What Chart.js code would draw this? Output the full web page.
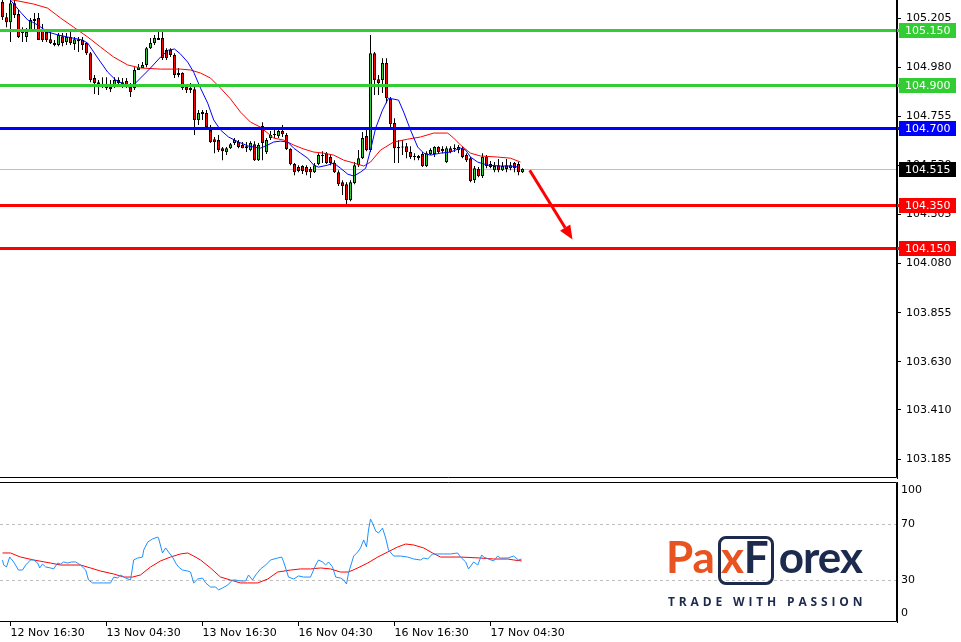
<!DOCTYPE html>
<html>
<head>
<meta charset="utf-8">
<script src="https://cdn.jsdelivr.net/npm/chart.js@4.4.0/dist/chart.umd.min.js"></script>
<style>
  body { margin: 0; background: #fff; }
  #wrap { position: relative; width: 961px; height: 642px; overflow: hidden; background: #fff; }
  canvas { position: absolute; left: 0; }
  #mainChart { top: 0; }
  #oscChart { top: 480px; }
  #logo { position: absolute; left: 666px; top: 530px; width: 200px; height: 80px; }
  #brand { position: absolute; left: 0; top: 0; font-family: Lato, "Open Sans", sans-serif; font-weight: 700; font-size: 44px; line-height: 52px; white-space: nowrap; }
  #brand .o { color: #e8531f; }
  #brand .n { color: #1c2a4d; }
  #brand .x { margin-left: 6px; }
  #brand .f { margin-right: 10px; }
  #brand .rest { letter-spacing: -1px; }
  #xbox { position: absolute; left: 52px; top: 6px; width: 50px; height: 43px; border: 3px solid #1c2a4d; border-radius: 8px; }
  #tag { position: absolute; left: 2px; top: 63px; font-family: "Open Sans", sans-serif; font-weight: 700; font-size: 12px; letter-spacing: 3.85px; color: #1c2a4d; white-space: nowrap; }
</style>
</head>
<body>
<div id="wrap">
  <canvas id="mainChart" width="961" height="480"></canvas>
  <canvas id="oscChart" width="961" height="162"></canvas>
  <div id="logo">
    <div id="xbox"></div>
    <div id="brand"><span class="o">Pa</span><span class="o x">x</span><span class="n f">F</span><span class="n rest">orex</span></div>
    <div id="tag">TRADE WITH PASSION</div>
  </div>
</div>
<script>
// M30 candles, bar 0 = 12 Nov ~15:30
const open = [105.280,105.209,105.186,105.273,105.223,105.141,105.118,105.150,105.200,105.205,
  105.145,105.141,105.108,105.090,105.081,105.122,105.095,105.118,105.086,105.108,
  105.104,105.090,105.044,104.930,104.911,104.902,104.893,104.889,104.893,104.921,
  104.911,104.916,104.889,104.884,104.967,104.976,104.990,105.067,105.090,105.104,
  105.113,105.058,105.058,105.035,104.953,104.953,104.889,104.884,104.879,104.738,
  104.774,104.770,104.692,104.650,104.646,104.609,104.591,104.609,104.632,104.637,
  104.623,104.618,104.600,104.627,104.554,104.710,104.591,104.655,104.669,104.664,
  104.687,104.669,104.605,104.536,104.522,104.527,104.522,104.513,104.499,104.536,
  104.577,104.586,104.568,104.541,104.499,104.453,104.444,104.371,104.449,104.531,
  104.563,104.664,104.600,105.044,104.925,104.921,104.999,104.834,104.724,104.614,
  104.616,104.618,104.591,104.573,104.573,104.582,104.527,104.582,104.582,104.614,
  104.605,104.545,104.609,104.609,104.600,104.609,104.577,104.563,104.462,104.513,
  104.481,104.568,104.536,104.508,104.531,104.508,104.531,104.517,104.541,104.536,
  104.499];
const high = [105.300,105.228,105.290,105.287,105.242,105.163,105.159,105.205,105.228,105.228,
  105.177,105.150,105.141,105.104,105.136,105.136,105.136,105.141,105.118,105.118,
  105.118,105.095,105.049,104.944,104.921,104.934,104.934,104.921,104.934,104.934,
  104.930,104.930,104.907,104.980,104.994,105.003,105.072,105.113,105.127,105.141,
  105.141,105.067,105.067,105.044,104.976,104.957,104.898,104.907,104.889,104.784,
  104.784,104.784,104.715,104.660,104.669,104.614,104.614,104.632,104.655,104.646,
  104.637,104.637,104.641,104.641,104.632,104.728,104.655,104.687,104.692,104.701,
  104.715,104.678,104.609,104.541,104.531,104.531,104.531,104.522,104.541,104.586,
  104.595,104.591,104.577,104.554,104.508,104.462,104.453,104.462,104.545,104.600,
  104.683,104.701,105.127,105.049,104.944,105.021,105.021,104.843,104.746,104.646,
  104.646,104.632,104.618,104.586,104.577,104.591,104.595,104.609,104.618,104.618,
  104.618,104.618,104.618,104.627,104.623,104.618,104.586,104.568,104.527,104.522,
  104.586,104.577,104.550,104.545,104.559,104.545,104.559,104.545,104.545,104.545,
  104.517];
const low = [105.196,105.163,105.095,105.205,105.113,105.095,105.095,105.141,105.150,105.104,
  105.095,105.095,105.086,105.076,105.076,105.076,105.081,105.081,105.058,105.049,
  105.058,105.035,104.911,104.857,104.852,104.884,104.875,104.866,104.884,104.893,
  104.884,104.884,104.843,104.875,104.967,104.976,104.980,105.063,105.081,105.104,
  105.013,105.013,105.026,104.930,104.934,104.875,104.861,104.861,104.669,104.715,
  104.738,104.701,104.632,104.586,104.591,104.554,104.577,104.605,104.623,104.609,
  104.609,104.591,104.595,104.550,104.550,104.554,104.582,104.646,104.655,104.655,
  104.660,104.600,104.531,104.485,104.499,104.490,104.485,104.472,104.495,104.531,
  104.541,104.536,104.531,104.495,104.435,104.394,104.348,104.366,104.444,104.522,
  104.559,104.595,104.591,104.852,104.852,104.861,104.815,104.705,104.541,104.541,
  104.577,104.563,104.559,104.554,104.554,104.522,104.522,104.577,104.568,104.586,
  104.586,104.541,104.586,104.591,104.586,104.563,104.545,104.453,104.449,104.476,
  104.472,104.517,104.517,104.499,104.499,104.504,104.499,104.508,104.499,104.485,
  104.495];
const close = [105.209,105.186,105.273,105.219,105.118,105.136,105.141,105.196,105.191,105.104,
  105.104,105.104,105.090,105.081,105.127,105.090,105.118,105.090,105.108,105.099,
  105.081,105.044,104.921,104.907,104.902,104.898,104.884,104.879,104.921,104.907,
  104.898,104.889,104.866,104.967,104.980,104.990,105.067,105.090,105.113,105.113,
  105.022,105.022,105.035,104.944,104.944,104.884,104.875,104.875,104.738,104.770,
  104.765,104.705,104.637,104.637,104.600,104.595,104.609,104.627,104.646,104.614,
  104.609,104.609,104.632,104.554,104.623,104.632,104.646,104.669,104.673,104.687,
  104.673,104.605,104.536,104.499,104.504,104.504,104.499,104.499,104.531,104.577,
  104.573,104.541,104.541,104.499,104.444,104.435,104.371,104.453,104.531,104.563,
  104.655,104.600,105.044,104.921,104.907,104.999,104.838,104.719,104.609,104.609,
  104.612,104.591,104.568,104.568,104.563,104.527,104.586,104.600,104.614,104.591,
  104.595,104.609,104.591,104.605,104.614,104.568,104.554,104.458,104.517,104.481,
  104.568,104.527,104.522,104.527,104.508,104.527,104.513,104.531,104.517,104.499,
  104.513];

// moving averages on the price pane (bar index, price)
const maFastIdx = [2,4.5,6.3,7.5,8.8,11.3,14,16.3,20,21.3,23.8,26.3,28.3,30.3,32,34.5,37,39.5,41.5,43,
  44.5,46.3,47.8,49.5,51.3,52.8,54.5,56.5,59,61.5,64.5,66.3,67.8,69.5,71.3,72.8,74.5,76.3,77.8,79,
  81.3,82.8,84.5,86.3,87.8,89.5,90.8,92,93.3,95,96.5,99,100.3,102,103.8,105.3,107,109.5,112,114.5,
  115.8,117,118.8,121.3,124.5,127,129];
const maFast = [105.287,105.232,105.196,105.186,105.173,105.141,105.127,105.118,105.104,105.090,105.022,104.957,104.921,104.902,104.884,104.930,104.976,105.026,105.058,105.063,
  105.040,105.003,104.957,104.884,104.815,104.738,104.692,104.660,104.637,104.618,104.609,104.623,104.637,104.641,104.637,104.609,104.586,104.563,104.531,104.522,
  104.531,104.541,104.517,104.490,104.481,104.499,104.517,104.600,104.701,104.783,104.838,104.829,104.774,104.692,104.614,104.586,104.577,104.586,104.591,104.609,
  104.600,104.568,104.545,104.531,104.527,104.527,104.522];
const maSlowIdx = [2,7.8,11.3,14.5,17.8,21.3,24.5,27.8,31.3,34.5,39.5,44.5,47,49.5,52,54.5,57,59.5,62,64.5,
  67.8,70.3,72.8,75.3,77.8,80.3,82.8,85.3,87.8,90.3,92,94.5,97.8,101.3,104.5,107.8,111.3,112.8,114.5,117,
  119.5,123.8,127,129.5];
const maSlow = [105.290,105.269,105.250,105.205,105.163,105.118,105.072,105.026,104.990,104.976,104.971,104.971,104.967,104.953,104.930,104.884,104.834,104.774,104.728,104.705,
  104.655,104.646,104.623,104.605,104.591,104.586,104.577,104.554,104.541,104.527,104.545,104.600,104.637,104.650,104.660,104.678,104.678,104.655,104.623,104.586,
  104.573,104.568,104.563,104.545];

// oscillator pane (bar index, value 0..100)
const oscFastIdx = [0,0.3,1,1.8,2.8,4,5,5.8,7,7.8,8.8,9.3,10,10.8,12,12.8,13.8,14.5,15.3,16.3,
  17.3,18.3,19.5,20.8,21.5,22.5,23.8,25.3,27,27.8,28.8,29.5,30.8,32,32.8,33.8,35,35.3,36.3,37.5,
  38.8,39,40,40.8,41.5,42.5,43.3,44,45,46.3,47,47.8,48.8,50,50.8,52,53.3,54,55,56.3,
  57.5,58.3,59.5,60.8,61.5,62.5,63.3,64.5,65.8,67,68.8,69.8,70.3,71.5,72.8,74,75.3,77,78.3,79,
  80,80.8,81.5,82.5,83.3,84.5,85.3,86,86.5,87.8,88.8,89.5,90.3,91,91.5,92,92.5,93.3,94,95,
  95.8,96.5,97.8,99.5,101.3,102.8,104.5,105.3,106.3,107.5,108.8,110.3,112,113.8,114.5,115.8,116.5,117.8,118.8,119.8,
  120.3,121.5,122.8,123.8,124.5,126.3,127.8,129,129.8];
const oscFast = [44.3,40.7,39.3,46.4,42.9,37.1,37.1,40.7,44.3,44.3,42.1,38.6,41.4,39.3,38.6,37.9,42.1,41.4,42.9,42.1,
  42.9,42.9,40.7,37.1,30,27.9,27.9,27.9,27.9,32.1,31.4,33.6,31.4,30,44.3,45.7,46.4,51.4,57.1,59.3,
  60.7,60,49.3,52.9,50,46.4,42.1,39.3,37.1,36.4,35.7,27.9,30.7,31.4,27.9,25,25,22.9,24.3,26.4,
  30,30,29.3,29.3,33.6,30,33.6,37.9,40.7,44.3,45.7,46.4,42.9,32.1,30.7,32.9,32.1,32.1,40.7,44.3,
  42.9,40.7,42.9,39.3,32.1,31.4,30,27.1,35,47.1,50,52.9,58.6,53.6,65.7,73.6,70.7,65,63.6,67.1,
  60,51.4,47.1,47.1,46.4,45,44.3,45.7,45,48.6,48.6,48.6,48.6,49.3,46.4,42.9,37.9,42.9,40.7,47.9,
  46.4,45,43.6,47.1,45.7,45.7,47.1,44.3,45];
const oscSlowIdx = [0,2,4.5,7.8,12,14.5,19.5,22,24.5,27.8,30.3,32.5,34.5,37,39.5,42,44.5,46.3,47.8,49.5,
  52,54.5,57,59.5,61.3,63.8,66.3,68.8,72,74.5,77,79.5,82,84.5,86.5,88.8,91.3,93.8,96.3,98.8,
  100.8,102.8,105.3,107.5,109.5,114.5,119.5,122.8,126.3,127.8,129.8];
const oscSlow = [49.3,49.3,46.4,44.3,42.1,40.7,40.7,38.6,36.4,34.3,32.1,32.1,33.6,39.3,43.6,46.4,48.6,49.3,47.1,44.3,
  38.6,32.1,30,27.9,27.9,27.9,30.7,35.7,37.1,37.9,37.9,38.6,37.9,35.7,35.7,38.6,42.1,46.4,50,53.6,
  55.7,55,52.9,49.3,46.4,46.4,45.7,45,45,44.3,43.6];

// axes
const priceTicks = [105.205, 104.980, 104.755, 104.530, 104.305, 104.080, 103.855, 103.630, 103.410, 103.185];
const priceMin = 103.098;
const priceMax = 105.2875;
const timeTickIdx = [2, 26, 50, 74, 98, 122];
const timeTickLabels = ['12 Nov 16:30', '13 Nov 04:30', '13 Nov 16:30', '16 Nov 04:30', '16 Nov 16:30', '17 Nov 04:30'];
const oscTickLabels = [100, 70, 30, 0];
const oscLevels = [30, 70];

// horizontal levels and current price
const levelPrices = [105.150, 104.900, 104.700, 104.350, 104.150];
const levelColors = ['#32cd32', '#32cd32', '#0000ff', '#ff0000', '#ff0000'];
const lastPrice = 104.515;
const arrowFrom = [131.8, 104.508];
const arrowTo = [142.5, 104.190];

const X_MIN = -0.625;
const X_MAX = 223.625;
const FONT = { family: 'DejaVu Sans', size: 11 };
const fontStr = '11px "DejaVu Sans"';

const bodies = open.map((o, i) => ({ x: i, y: [o, close[i]] }));
const wicks = low.map((l, i) => ({ x: i, y: [l, high[i]] }));
const bodyColors = open.map((o, i) => close[i] > o ? '#32cd32' : (close[i] < o ? '#ff0000' : '#000000'));
const pairs = (xs, ys) => xs.map((x, i) => ({ x: x, y: ys[i] }));

// pane border: right + bottom always, top only for the lower pane
function frame(chart, withTop) {
  const { ctx, chartArea: a } = chart;
  ctx.save();
  ctx.strokeStyle = '#000';
  ctx.lineWidth = 1;
  ctx.beginPath();
  if (withTop) {
    ctx.moveTo(a.left, a.top + 0.5);
    ctx.lineTo(a.right - 0.5, a.top + 0.5);
  } else {
    ctx.moveTo(a.right - 0.5, a.top);
  }
  ctx.lineTo(a.right - 0.5, a.bottom - 0.5);
  ctx.lineTo(a.left, a.bottom - 0.5);
  ctx.stroke();
  ctx.restore();
}

const mainOverlay = {
  id: 'mainOverlay',
  beforeDatasetsDraw(chart) {
    const { ctx, chartArea: a, scales: { y } } = chart;
    const py = Math.round(y.getPixelForValue(lastPrice)) + 0.5;
    ctx.save();
    ctx.strokeStyle = '#c0c0c0';
    ctx.lineWidth = 1;
    ctx.beginPath();
    ctx.moveTo(a.left, py);
    ctx.lineTo(a.right, py);
    ctx.stroke();
    ctx.restore();
  },
  afterDatasetsDraw(chart) {
    const { ctx, chartArea: a, scales: { x, y } } = chart;
    ctx.save();
    levelPrices.forEach((p, i) => {
      const py = Math.round(y.getPixelForValue(p)) + 0.5;
      ctx.strokeStyle = levelColors[i];
      ctx.lineWidth = 3;
      ctx.beginPath();
      ctx.moveTo(a.left, py);
      ctx.lineTo(a.right + 2, py);
      ctx.stroke();
    });
    // arrow
    const x1 = x.getPixelForValue(arrowFrom[0]), y1 = y.getPixelForValue(arrowFrom[1]);
    const x2 = x.getPixelForValue(arrowTo[0]), y2 = y.getPixelForValue(arrowTo[1]);
    const ang = Math.atan2(y2 - y1, x2 - x1);
    const head = 14, half = 6;
    const bx = x2 - head * Math.cos(ang), by = y2 - head * Math.sin(ang);
    ctx.strokeStyle = '#ff0000';
    ctx.fillStyle = '#ff0000';
    ctx.lineWidth = 3;
    ctx.beginPath();
    ctx.moveTo(x1, y1);
    ctx.lineTo(bx, by);
    ctx.stroke();
    ctx.beginPath();
    ctx.moveTo(x2, y2);
    ctx.lineTo(bx + half * Math.sin(ang), by - half * Math.cos(ang));
    ctx.lineTo(bx - half * Math.sin(ang), by + half * Math.cos(ang));
    ctx.closePath();
    ctx.fill();
    ctx.restore();
    frame(chart, false);
  },
  afterDraw(chart) {
    const { ctx, chartArea: a, scales: { y } } = chart;
    const boxes = levelPrices.map((p, i) => [p, levelColors[i]]).concat([[lastPrice, '#000000']]);
    ctx.save();
    ctx.font = fontStr;
    ctx.textBaseline = 'middle';
    ctx.textAlign = 'left';
    boxes.forEach(([p, c]) => {
      const py = Math.round(y.getPixelForValue(p));
      ctx.fillStyle = c;
      ctx.fillRect(a.right + 2, py - 7, 57, 15);
      ctx.fillStyle = '#fff';
      ctx.fillText(p.toFixed(3), a.right + 8, py + 1);
    });
    ctx.restore();
  }
};

new Chart(document.getElementById('mainChart'), {
  type: 'bar',
  data: {
    datasets: [
      { type: 'line', data: pairs(maFastIdx, maFast), borderColor: '#0000ff', borderWidth: 1, pointRadius: 0, tension: 0, order: 0 },
      { type: 'line', data: pairs(maSlowIdx, maSlow), borderColor: '#ff0000', borderWidth: 1, pointRadius: 0, tension: 0, order: 1 },
      { data: bodies, backgroundColor: bodyColors, borderColor: '#000', borderWidth: 1, borderSkipped: false,
        barThickness: 3, minBarLength: 1, grouped: false, inflateAmount: 0, order: 2 },
      { data: wicks, backgroundColor: '#000', borderWidth: 0, barThickness: 1, minBarLength: 1,
        grouped: false, inflateAmount: 0, order: 3 }
    ]
  },
  options: {
    responsive: false,
    animation: false,
    devicePixelRatio: 1,
    layout: { padding: { left: 0, top: 0, right: 0, bottom: 2 } },
    plugins: { legend: { display: false }, tooltip: { enabled: false } },
    scales: {
      x: { type: 'linear', min: X_MIN, max: X_MAX, offset: false, display: false },
      y: {
        position: 'right', min: priceMin, max: priceMax,
        afterFit: s => { s.width = 64; s.paddingTop = 0; s.paddingBottom = 0; },
        afterBuildTicks: s => { s.ticks = priceTicks.map(v => ({ value: v })); },
        ticks: { callback: v => v.toFixed(3), font: FONT, color: '#000', padding: 5, autoSkip: false },
        grid: { drawOnChartArea: false, tickLength: 4, color: '#000' },
        border: { color: '#000' }
      }
    }
  },
  plugins: [mainOverlay]
});

const oscOverlay = {
  id: 'oscOverlay',
  beforeDatasetsDraw(chart) {
    const { ctx, chartArea: a, scales: { y } } = chart;
    ctx.save();
    ctx.strokeStyle = '#c0c0c0';
    ctx.lineWidth = 1;
    ctx.setLineDash([3, 3]);
    oscLevels.forEach(v => {
      const py = Math.round(y.getPixelForValue(v)) + 0.5;
      ctx.beginPath();
      ctx.moveTo(a.left, py);
      ctx.lineTo(a.right, py);
      ctx.stroke();
    });
    ctx.restore();
  },
  afterDraw(chart) {
    const { ctx, chartArea: a, scales: { y } } = chart;
    frame(chart, true);
    ctx.save();
    ctx.font = fontStr;
    ctx.fillStyle = '#000';
    ctx.textBaseline = 'middle';
    ctx.textAlign = 'left';
    oscTickLabels.forEach(v => {
      const py = Math.min(Math.max(y.getPixelForValue(v), a.top + 8), a.bottom - 9);
      ctx.fillText(String(v), a.right + 4, py);
    });
    ctx.restore();
  }
};

new Chart(document.getElementById('oscChart'), {
  type: 'line',
  data: {
    datasets: [
      { data: pairs(oscFastIdx, oscFast), borderColor: '#1e90ff', borderWidth: 1, pointRadius: 0, tension: 0 },
      { data: pairs(oscSlowIdx, oscSlow), borderColor: '#ff0000', borderWidth: 1, pointRadius: 0, tension: 0 }
    ]
  },
  options: {
    responsive: false,
    animation: false,
    devicePixelRatio: 1,
    layout: { padding: { left: 0, top: 2, right: 0, bottom: 0 } },
    plugins: { legend: { display: false }, tooltip: { enabled: false } },
    scales: {
      x: {
        type: 'linear', min: X_MIN, max: X_MAX,
        afterFit: s => { s.height = 20; s.paddingLeft = 0; s.paddingRight = 0; },
        afterBuildTicks: s => { s.ticks = timeTickIdx.map(v => ({ value: v })); },
        ticks: { callback: (v, i) => timeTickLabels[i], align: 'start', autoSkip: false, maxRotation: 0, padding: 1, font: FONT, color: '#000' },
        grid: { drawOnChartArea: false, tickLength: 4, color: '#000' },
        border: { display: false }
      },
      y: {
        position: 'right', min: 0, max: 100,
        afterFit: s => { s.width = 64; s.paddingTop = 0; s.paddingBottom = 0; },
        ticks: { display: false },
        grid: { display: false },
        border: { color: '#000' }
      }
    }
  },
  plugins: [oscOverlay]
});
</script>
</body>
</html>
